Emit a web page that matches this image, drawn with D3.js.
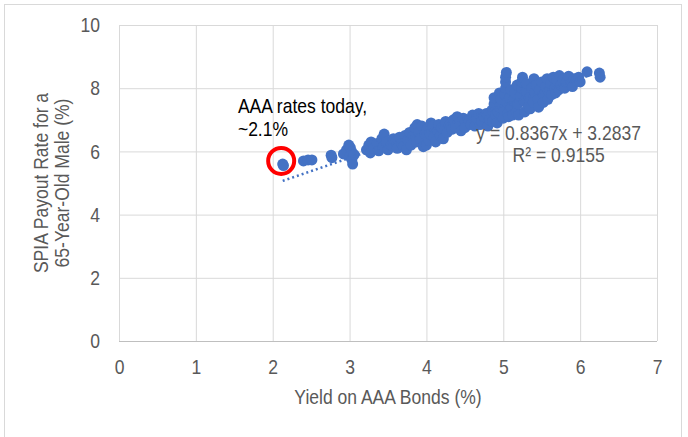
<!DOCTYPE html>
<html>
<head>
<meta charset="utf-8">
<script src="https://cdn.jsdelivr.net/npm/d3@7"></script>
<style>
  body { margin: 0; background: #fff; }
  text { font-family: "Liberation Sans", Arial, sans-serif; }
  .grid line { stroke: #d9d9d9; stroke-width: 1; }
  .grid path { stroke: none; }
  .axis path, .axis line { stroke: none; }
  .axis text { fill: #595959; font-size: 21px; }
</style>
</head>
<body>
<div class="chart"></div>
<script>
// yield on AAA bonds (%) vs SPIA payout rate for a 65-year-old male (%)
var points = [
  [2.13,5.60],[2.14,5.55],
  [2.40,5.70],[2.46,5.73],[2.51,5.73],
  [2.76,5.88],[2.77,5.80],
  [2.92,5.92],[2.96,6.05],[2.99,6.20],[3.01,6.12],[3.03,5.98],[3.00,5.85],[3.03,5.74],[3.04,5.60],[3.06,5.90],
  [3.22,6.05],[3.25,6.20],[3.28,6.30],[3.27,5.95],[3.32,6.10],[3.36,6.25],[3.38,6.02],[3.42,6.40],[3.45,6.55],[3.44,6.15],[3.48,6.30],[3.50,6.05],
  [3.54,6.20],[3.57,6.40],[3.60,6.30],[3.62,6.10],[3.65,6.45],[3.68,6.25],[3.70,6.15],[3.72,6.50],[3.74,6.05],
  [3.76,6.35],[3.78,6.60],[3.80,6.20],[3.83,6.50],[3.85,6.75],[3.87,6.30],[3.88,6.85],[3.90,6.60],[3.92,6.40],[3.94,6.80],[3.96,6.15],[3.98,6.55],
  [4.00,6.20],[4.01,6.70],[4.03,6.35],[4.05,6.55],[4.06,6.90],[4.08,6.80],[4.10,6.45],[4.12,6.30],[4.15,6.65],[4.16,6.85],[4.18,6.50],[4.20,6.75],[4.22,6.40],[4.25,6.95],
  [4.27,6.60],[4.30,6.85],[4.33,6.70],[4.35,7.00],[4.38,6.75],[4.40,7.10],[4.43,6.90],[4.45,6.65],[4.48,7.05],[4.50,6.75],
  [4.55,7.00],[4.58,6.85],[4.60,7.15],[4.63,6.80],[4.65,7.05],[4.68,7.20],[4.70,6.85],[4.72,6.95],[4.75,7.10],[4.78,7.20],[4.80,6.80],
  [4.82,7.00],[4.85,7.30],[4.86,6.95],[4.88,7.50],[4.88,7.70],[4.90,7.15],[4.92,6.90],[4.93,7.25],[4.95,7.40],[4.95,7.85],[4.97,7.65],[4.98,7.10],
  [5.00,7.05],[5.01,7.30],[5.02,7.80],[5.03,8.00],[5.03,8.20],[5.03,8.35],[5.04,8.50],[5.05,7.55],[5.06,7.20],[5.07,7.10],[5.08,7.70],[5.10,7.40],[5.10,7.95],
  [5.12,7.15],[5.13,7.60],[5.15,7.85],[5.17,7.25],[5.18,8.10],[5.19,7.50],[5.20,7.15],[5.22,7.75],[5.24,8.00],[5.24,8.20],[5.25,8.35],[5.27,7.60],[5.28,7.25],[5.30,7.90],[5.30,8.15],[5.32,7.40],[5.34,7.70],
  [5.35,7.35],[5.37,8.00],[5.39,7.55],[5.40,8.30],[5.41,7.85],[5.43,8.10],[5.45,7.65],[5.46,7.40],[5.47,7.95],[5.50,8.20],[5.52,7.80],[5.52,7.55],[5.55,8.05],[5.57,8.30],[5.58,7.65],[5.59,7.90],
  [5.62,8.15],[5.63,7.80],[5.65,8.35],[5.67,8.00],[5.68,7.85],[5.70,8.25],[5.72,7.95],[5.73,8.40],[5.75,8.10],[5.78,8.30],[5.80,8.00],[5.82,8.20],[5.85,8.38],[5.88,8.15],[5.90,8.05],[5.92,8.30],[5.95,8.25],[5.98,8.35],[6.00,8.20],
  [6.09,8.52],[6.25,8.48],[6.26,8.35]
];
var xTicks = [0, 1, 2, 3, 4, 5, 6, 7];
var yTicks = [0, 2, 4, 6, 8, 10];
var trend = {slope: 0.8367, intercept: 3.2837, r2: 0.9155};
var today = [2.11, 5.70];
var noteLines = ["AAA rates today,", "~2.1%"];

var margin = {top: 25, right: 31, bottom: 96, left: 119},
    width = 688 - margin.left - margin.right,
    height = 437 - margin.top - margin.bottom;

var squeeze = 0.835;  // no narrow font installed, so squash Liberation Sans

var root = d3.select(".chart")
  .append("svg")
    .attr("width", 688)
    .attr("height", 437);

// chart frame
root.append("rect")
    .attr("x", 4.5)
    .attr("y", 4.5)
    .attr("width", 677)
    .attr("height", 450)
    .attr("fill", "none")
    .attr("stroke", "#d9d9d9");

var svg = root.append("g")
    .attr("transform", "translate(" + margin.left + "," + margin.top + ")");

function label(parent, px, py, str, anchor, color) {
    var g = parent.append("g")
        .attr("transform", "translate(" + px + "," + py + ") scale(" + squeeze + ",1)");
    g.append("text")
        .attr("text-anchor", anchor)
        .attr("fill", color)
        .attr("font-size", "21px")
        .text(str);
    return g;
}

var x = d3.scaleLinear().domain([0, 7]).range([0, width]);
var y = d3.scaleLinear().domain([0, 10]).range([height, 0]);

svg.append("g")
    .attr("class", "grid")
    .call(d3.axisLeft(y).tickValues(yTicks).tickFormat("").tickSize(-width));

svg.append("g")
    .attr("class", "grid")
    .attr("transform", "translate(0," + height + ")")
    .call(d3.axisBottom(x).tickValues(xTicks).tickFormat("").tickSize(-height));

svg.append("line")
    .attr("x1", 0).attr("x2", width)
    .attr("y1", height + 0.5).attr("y2", height + 0.5)
    .attr("stroke", "#bfbfbf");

svg.append("g")
    .attr("class", "x axis")
    .attr("transform", "translate(0," + height + ")")
    .call(d3.axisBottom(x).tickValues(xTicks).tickFormat(d3.format("d")).tickSize(0).tickPadding(18))
  .selectAll("text")
    .attr("transform", "scale(" + squeeze + ",1)");

svg.append("g")
    .attr("class", "y axis")
    .call(d3.axisLeft(y).tickValues(yTicks).tickSize(0).tickPadding(19))
  .selectAll("text")
    .attr("x", -19 / squeeze)
    .attr("transform", "scale(" + squeeze + ",1)");

svg.selectAll(".dot")
    .data(points)
    .enter()
    .append("circle")
      .attr("class", "dot")
      .attr("cx", function(d) { return x(d[0]); })
      .attr("cy", function(d) { return y(d[1]); })
      .attr("r", 5.5)
      .attr("fill", "#4472C4");

var xs = d3.extent(points, function(d) { return d[0]; });
svg.append("line")
    .attr("x1", x(xs[0]))
    .attr("y1", y(trend.slope * xs[0] + trend.intercept))
    .attr("x2", x(xs[1]))
    .attr("y2", y(trend.slope * xs[1] + trend.intercept))
    .attr("stroke", "#4472C4")
    .attr("stroke-width", 2.5)
    .attr("stroke-dasharray", "2,3");

label(svg, x(5.72), y(6.36), "y = " + trend.slope + "x + " + trend.intercept, "middle", "#595959");
label(svg, x(5.72), y(5.66), "R\u00b2 = " + trend.r2, "middle", "#595959");

// marker for today's rate
svg.append("circle")
    .attr("cx", x(today[0]))
    .attr("cy", y(today[1]))
    .attr("r", 13)
    .attr("fill", "none")
    .attr("stroke", "#ff0000")
    .attr("stroke-width", 4);

noteLines.forEach(function(s, i) {
    label(svg, x(1.547), y(7.215) + i * 23, s, "start", "#000");
});

label(svg, width / 2, height + 63, "Yield on AAA Bonds (%)", "middle", "#595959");

var ytitle = svg.append("g")
    .attr("transform", "translate(" + (-71) + "," + (height / 2) + ") rotate(-90) scale(" + squeeze + ",1)")
  .append("text")
    .attr("text-anchor", "middle")
    .attr("fill", "#595959")
    .attr("font-size", "21px");
ytitle.append("tspan").attr("x", 0).attr("y", 0).text("SPIA Payout Rate for a");
ytitle.append("tspan").attr("x", 0).attr("y", 21).text("65-Year-Old Male (%)");
</script>
</body>
</html>
